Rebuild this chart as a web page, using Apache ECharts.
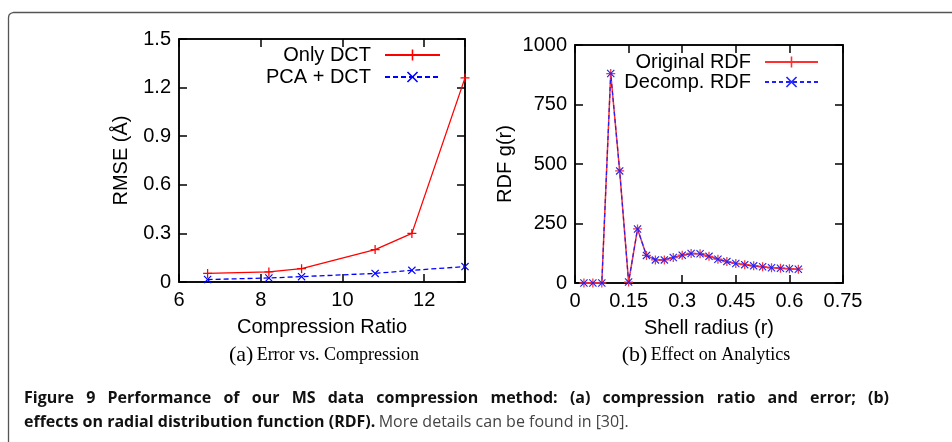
<!DOCTYPE html>
<html>
<head>
<meta charset="utf-8">
<script src="https://cdn.jsdelivr.net/npm/echarts@6/dist/echarts.min.js"></script>
<style>html,body{margin:0;padding:0;background:#fff;}#c{width:952px;height:442px;}</style>
</head>
<body>
<div id="c"></div>
<script>
// ---- Data: (a) Error vs. Compression ----
var ratioDCT = [6.7, 8.2, 9.0, 10.8, 11.7, 13.0];
var rmseDCT = [0.053, 0.062, 0.082, 0.2, 0.3, 1.26];
var ratioPCA = [6.7, 8.2, 9.0, 10.8, 11.7, 13.0];
var rmsePCA = [0.015, 0.025, 0.033, 0.053, 0.072, 0.095];
// ---- Data: (b) Effect on Analytics ----
var shellRadius = [0.025, 0.05, 0.075, 0.1, 0.125, 0.15, 0.175, 0.2, 0.225, 0.25, 0.275, 0.3, 0.325, 0.35, 0.375, 0.4, 0.425, 0.45, 0.475, 0.5, 0.525, 0.55, 0.575, 0.6, 0.625];
var rdfOriginal = [0, 0, 0, 880, 471, 4, 227, 116, 97, 97, 107, 117, 124, 123, 112, 100, 90, 82, 77, 72, 68, 64, 62, 60, 58];
var rdfDecomp = [0, 0, 0, 880, 471, 4, 227, 116, 97, 97, 107, 117, 124, 123, 112, 100, 90, 82, 77, 72, 68, 64, 62, 60, 58];
var xTicksA = [6, 8, 10, 12];
var yTicksA = [0, 0.3, 0.6, 0.9, 1.2, 1.5];
var xTicksB = [0, 0.15, 0.3, 0.45, 0.6, 0.75];
var yTicksB = [0, 250, 500, 750, 1000];
var captionLine1 = 'Figure 9 Performance of our MS data compression method: (a) compression ratio and error; (b)';
var captionLine2Bold = 'effects on radial distribution function (RDF).';
var captionLine2Rest = 'More details can be found in [30].';

function pairs(xs, ys) { return xs.map(function (x, i) { return [x, ys[i]]; }); }

var PLUS = 'path://M4.3,0H5.7V4.3H10V5.7H5.7V10H4.3V5.7H0V4.3H4.3Z';
var CROSS = 'path://M0,1L1,0L5,4L9,0L10,1L6,5L10,9L9,10L5,6L1,10L0,9L4,5Z';
var FONT = 'Liberation Sans';
var FS = 20;
var lblStyle = { color: '#000', fontFamily: FONT, fontSize: FS };

function axisCommon(extra) {
  var base = {
    axisLine: { show: true, onZero: false, lineStyle: { color: '#000', width: 1.5 } },
    axisTick: { show: true, inside: true, length: 8, lineStyle: { color: '#000', width: 1.5 } },
    splitLine: { show: false },
    axisLabel: Object.assign({ margin: 8, formatter: function (v) { return String(+v.toFixed(4)); } }, lblStyle)
  };
  return Object.assign(base, extra);
}
function mirror(extra) {
  var a = axisCommon(extra);
  a.axisLabel = { show: false };
  return a;
}
function legendAt(name, right, top, w) {
  return { data: [name], orient: 'vertical', right: right, top: top, align: 'right', itemWidth: w, itemHeight: 14, padding: 0,
    textStyle: { color: '#000', fontFamily: FONT, fontSize: FS, lineHeight: 20, padding: [0, 9, 0, 0] } };
}

// justified first caption line: place words with equal spacing between x=24 and x=889
var ctx = document.createElement('canvas').getContext('2d');
ctx.font = 'bold 16px "Open Sans"';
var words = captionLine1.split(' ');
var widths = words.map(function (w) { return ctx.measureText(w).width; });
var totalW = widths.reduce(function (a, b) { return a + b; }, 0);
var startX = 24, endX = 889;
var gap = (endX - startX - totalW) / (words.length - 1);
var captionGraphics = [];
var cx = startX;
words.forEach(function (w, i) {
  captionGraphics.push({ type: 'text', silent: true, x: cx, y: 398,
    style: { text: w, fontFamily: 'Open Sans', fontWeight: 'bold', fontSize: 16, fill: '#111', verticalAlign: 'middle' } });
  cx += widths[i] + gap;
});

var chart = echarts.init(document.getElementById('c'), null, { renderer: 'canvas' });
var option = {
  animation: false,
  backgroundColor: '#fff',
  grid: [
    { left: 179, top: 39, width: 286, height: 243, show: true, borderColor: '#000', borderWidth: 1.5, backgroundColor: 'transparent' },
    { left: 575, top: 45, width: 268, height: 238, show: true, borderColor: '#000', borderWidth: 1.5, backgroundColor: 'transparent' }
  ],
  xAxis: [
    axisCommon({ type: 'value', gridIndex: 0, position: 'bottom', min: xTicksA[0], max: 13, interval: 2,
      name: 'Compression Ratio', nameLocation: 'middle', nameGap: 35, nameTextStyle: lblStyle }),
    mirror({ type: 'value', gridIndex: 0, position: 'top', min: xTicksA[0], max: 13, interval: 2 }),
    axisCommon({ type: 'value', gridIndex: 1, position: 'bottom', min: xTicksB[0], max: xTicksB[xTicksB.length - 1], interval: 0.15,
      name: 'Shell radius (r)', nameLocation: 'middle', nameGap: 35, nameTextStyle: lblStyle }),
    mirror({ type: 'value', gridIndex: 1, position: 'top', min: xTicksB[0], max: xTicksB[xTicksB.length - 1], interval: 0.15 })
  ],
  yAxis: [
    axisCommon({ type: 'value', gridIndex: 0, position: 'left', min: yTicksA[0], max: yTicksA[yTicksA.length - 1], interval: 0.3,
      name: 'RMSE (Å)', nameLocation: 'middle', nameGap: 48, nameTextStyle: lblStyle }),
    mirror({ type: 'value', gridIndex: 0, position: 'right', min: yTicksA[0], max: yTicksA[yTicksA.length - 1], interval: 0.3 }),
    axisCommon({ type: 'value', gridIndex: 1, position: 'left', min: yTicksB[0], max: yTicksB[yTicksB.length - 1], interval: 250,
      name: 'RDF g(r)', nameLocation: 'middle', nameGap: 60, nameTextStyle: lblStyle }),
    mirror({ type: 'value', gridIndex: 1, position: 'right', min: yTicksB[0], max: yTicksB[yTicksB.length - 1], interval: 250 })
  ],
  legend: [
    legendAt('Only DCT', 511, 45, 55),
    legendAt('PCA + DCT', 511, 67, 55),
    legendAt('Original RDF', 133, 52, 53),
    legendAt('Decomp. RDF', 133, 72, 53)
  ],
  series: [
    { name: 'Only DCT', type: 'line', xAxisIndex: 0, yAxisIndex: 0, data: pairs(ratioDCT, rmseDCT),
      symbol: PLUS, symbolSize: 9, showAllSymbol: true, clip: true,
      lineStyle: { color: '#ff0000', width: 1.3 }, itemStyle: { color: '#ff0000' } },
    { name: 'PCA + DCT', type: 'line', xAxisIndex: 0, yAxisIndex: 0, data: pairs(ratioPCA, rmsePCA),
      symbol: CROSS, symbolSize: 8, showAllSymbol: true, clip: true,
      lineStyle: { color: '#0000ff', width: 1.3, type: [5, 3] }, itemStyle: { color: '#0000ff' } },
    { name: 'Original RDF', type: 'line', xAxisIndex: 2, yAxisIndex: 2, data: pairs(shellRadius, rdfOriginal),
      symbol: PLUS, symbolSize: 9, showAllSymbol: true,
      lineStyle: { color: '#ff3030', width: 1.5 }, itemStyle: { color: '#ff3030' } },
    { name: 'Decomp. RDF', type: 'line', xAxisIndex: 2, yAxisIndex: 2, data: pairs(shellRadius, rdfDecomp),
      symbol: CROSS, symbolSize: 8, showAllSymbol: true,
      lineStyle: { color: '#2020ff', width: 1.2, type: [4, 3] }, itemStyle: { color: '#2020ff' } }
  ],
  graphic: [
    { type: 'polyline', silent: true,
      shape: { points: [[8.5, 442], [8.5, 17.5], [9, 15], [10.5, 13.5], [13.5, 12.5], [952, 12.5]] },
      style: { fill: null, stroke: '#555', lineWidth: 1.3 } },
    { type: 'text', silent: true, x: 324, y: 355,
      style: { text: '{a|(a)} {t|Error vs. Compression}', align: 'center', verticalAlign: 'middle',
        rich: { a: { fontFamily: 'Liberation Serif', fontSize: 22, fill: '#000' }, t: { fontFamily: 'Liberation Serif', fontSize: 18, fill: '#000' } } } },
    { type: 'text', silent: true, x: 706, y: 355,
      style: { text: '{a|(b)} {t|Effect on Analytics}', align: 'center', verticalAlign: 'middle',
        rich: { a: { fontFamily: 'Liberation Serif', fontSize: 22, fill: '#000' }, t: { fontFamily: 'Liberation Serif', fontSize: 18, fill: '#000' } } } },
    { type: 'text', silent: true, x: 24, y: 422,
      style: { text: '{b|' + captionLine2Bold + '} {r|' + captionLine2Rest + '}', verticalAlign: 'middle',
        rich: { b: { fontFamily: 'Open Sans', fontWeight: 'bold', fontSize: 16, fill: '#111' },
                r: { fontFamily: 'Open Sans', fontSize: 16, fill: '#444' } } } }
  ].concat(captionGraphics)
};
option.xAxis[0].axisLabel.showMaxLabel = false;
chart.setOption(option);
</script>
</body>
</html>
